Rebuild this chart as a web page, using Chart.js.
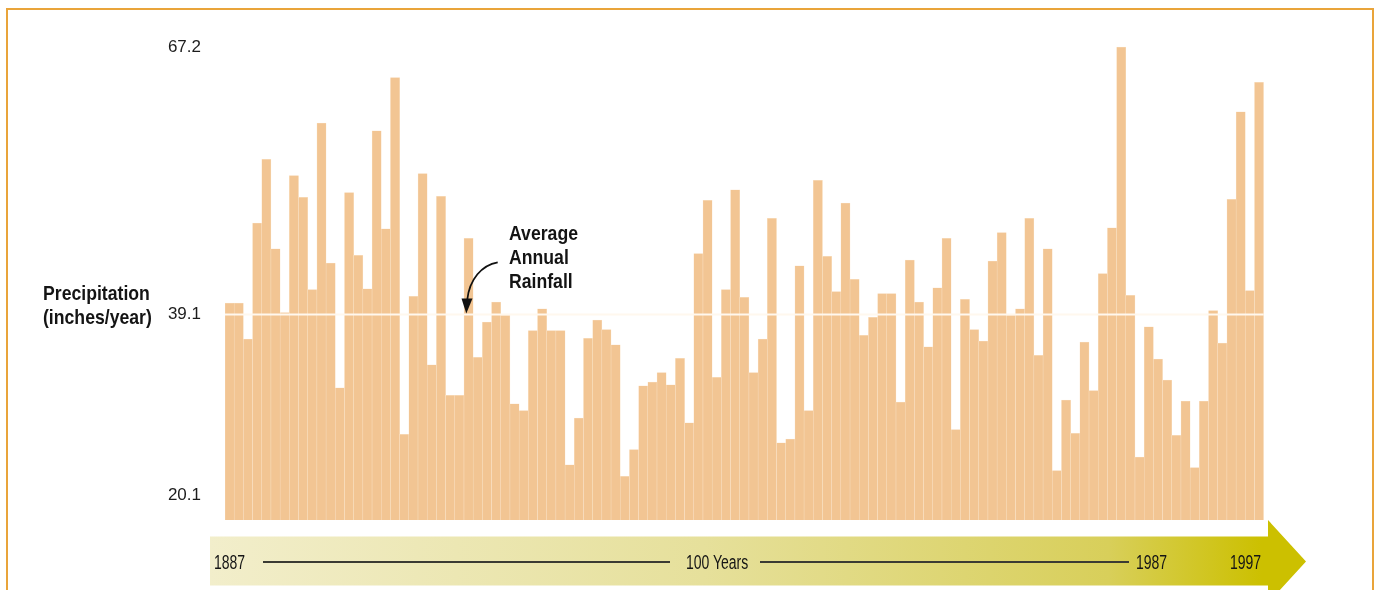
<!DOCTYPE html>
<html>
<head>
<meta charset="utf-8">
<script src="https://cdn.jsdelivr.net/npm/chart.js@4.4.1/dist/chart.umd.min.js"></script>
<style>
  html, body { margin:0; padding:0; background:#fff; overflow:hidden; }
  body { width:1374px; height:590px; position:relative; font-family:"Liberation Sans", Arial, sans-serif; }
  #frame { position:absolute; left:6px; top:8px; width:1368px; height:620px;
           border:2px solid #E9A43A; border-bottom:none; box-sizing:border-box; }
  #wrap { position:absolute; left:0; top:0; width:1374px; height:590px; }
  .t { position:absolute; white-space:nowrap; color:#141414; transform-origin:0 0; }
  .b { font-weight:bold; font-size:21px; line-height:24px; transform:scaleX(0.84); }
  #band { position:absolute; left:210px; top:520px; width:1096px; height:83px;
          background:linear-gradient(to right, rgb(242,238,203) 0%, rgb(230,224,155) 45%, rgb(216,207,90) 82%, rgb(204,192,0) 96%);
          clip-path:polygon(0 16.6px, 1058px 16.6px, 1058px 0, 1096px 41.5px, 1058px 83px, 1058px 65.6px, 0 65.6px); }
  .tl { position:absolute; height:2px; background:#3b3b33; top:561px; }
  .yr { position:absolute; top:550px; font-size:20px; line-height:24px; color:#151515;
        transform:scaleX(0.7); transform-origin:0 0; white-space:nowrap; }
</style>
</head>
<body>
<div id="frame"></div>
<div id="band"></div>
<div id="wrap"><canvas id="c" width="1374" height="590"></canvas></div>

<div class="t b" style="left:43px; top:281px;">Precipitation<br>(inches/year)</div>
<div class="t b" style="left:509px; top:221px;">Average<br>Annual<br>Rainfall</div>

<svg style="position:absolute;left:0;top:0;" width="1374" height="590">
  <path d="M497.7 262.3 C482 265, 469.5 279, 467.2 300" fill="none" stroke="#111" stroke-width="1.8"/>
  <polygon points="461.5,298.5 472.5,298.5 466.3,313.5" fill="#111"/>
</svg>

<div class="tl" style="left:263px; width:407px;"></div>
<div class="tl" style="left:760px; width:369px;"></div>
<div id="labels"></div>

<script>
// ---- data ----
const years = [];
for (let y = 1887; y <= 1999; y++) years.push(String(y));

const precipitation = [
  40.3, 40.3, 36.5, 48.7, 55.4, 46.0, 39.3, 53.7, 51.4, 41.7,
  59.2, 44.5, 31.4, 51.9, 45.3, 41.8, 58.4, 48.1, 64.0, 26.5,
  41.0, 53.9, 33.8, 51.5, 30.6, 30.6, 47.1, 34.6, 38.3, 40.4,
  39.0, 29.7, 29.0, 37.4, 39.7, 37.4, 37.4, 23.3, 28.2, 36.6,
  38.5, 37.5, 35.9, 22.1, 24.9, 31.6, 32.0, 33.0, 31.7, 34.5,
  27.7, 45.5, 51.1, 32.5, 41.7, 52.2, 40.9, 33.0, 36.5, 49.2,
  25.6, 26.0, 44.2, 29.0, 53.2, 45.2, 41.5, 50.8, 42.8, 36.9,
  38.8, 41.3, 41.3, 29.9, 44.8, 40.4, 35.7, 41.9, 47.1, 27.0,
  40.7, 37.5, 36.3, 44.7, 47.7, 39.0, 39.7, 49.2, 34.8, 46.0,
  22.7, 30.1, 26.6, 36.2, 31.1, 43.4, 48.2, 67.2, 41.1, 24.1,
  37.8, 34.4, 32.2, 26.4, 30.0, 23.0, 30.0, 39.5, 36.1, 51.2,
  60.4, 41.6, 63.5
];

const averageRainfall = 39.1;
const yTickValues = [20.1, 39.1, 67.2];
const timelineLabels = [
  { text: "1887", x: 214 },
  { text: "100 Years", x: 686 },
  { text: "1987", x: 1136 },
  { text: "1997", x: 1230 }
];

// timeline labels
const lab = document.getElementById('labels');
timelineLabels.forEach(l => {
  const d = document.createElement('div');
  d.className = 'yr';
  d.style.left = l.x + 'px';
  d.textContent = l.text;
  lab.appendChild(d);
});

const FONT = '"Liberation Sans", Arial, sans-serif';

const avgLine = {
  id: 'avgLine',
  afterDatasetsDraw(chart) {
    const { ctx, chartArea, scales } = chart;
    const y = Math.round(scales.y.getPixelForValue(averageRainfall)) + 0.5;
    ctx.save();
    ctx.strokeStyle = '#FFF8EE';
    ctx.lineWidth = 2;
    ctx.beginPath();
    ctx.moveTo(chartArea.left, y);
    ctx.lineTo(chartArea.right, y);
    ctx.stroke();
    ctx.restore();
  }
};

new Chart(document.getElementById('c'), {
  type: 'bar',
  data: {
    labels: years,
    datasets: [{
      data: precipitation,
      backgroundColor: '#F2C593',
      borderColor: '#FAE4CA',
      borderWidth: 0.5,
      barPercentage: 1,
      categoryPercentage: 1
    }]
  },
  options: {
    responsive: false,
    animation: false,
    devicePixelRatio: 1,
    layout: { padding: { left: 165, right: 110.3, top: 39.4, bottom: 70 } },
    plugins: { legend: { display: false }, tooltip: { enabled: false } },
    scales: {
      x: { display: false, offset: true },
      y: {
        min: 17.5, max: 68,
        afterBuildTicks(scale) { scale.ticks = yTickValues.map(v => ({ value: v })); },
        afterFit(scale) { scale.width = 60; },
        grid: { display: false, drawTicks: false },
        border: { display: false },
        ticks: {
          padding: 24,
          color: '#1c1c1c',
          font: { family: FONT, size: 17 },
          callback: v => Number(v).toFixed(1)
        }
      }
    }
  },
  plugins: [avgLine]
});
</script>
</body>
</html>
